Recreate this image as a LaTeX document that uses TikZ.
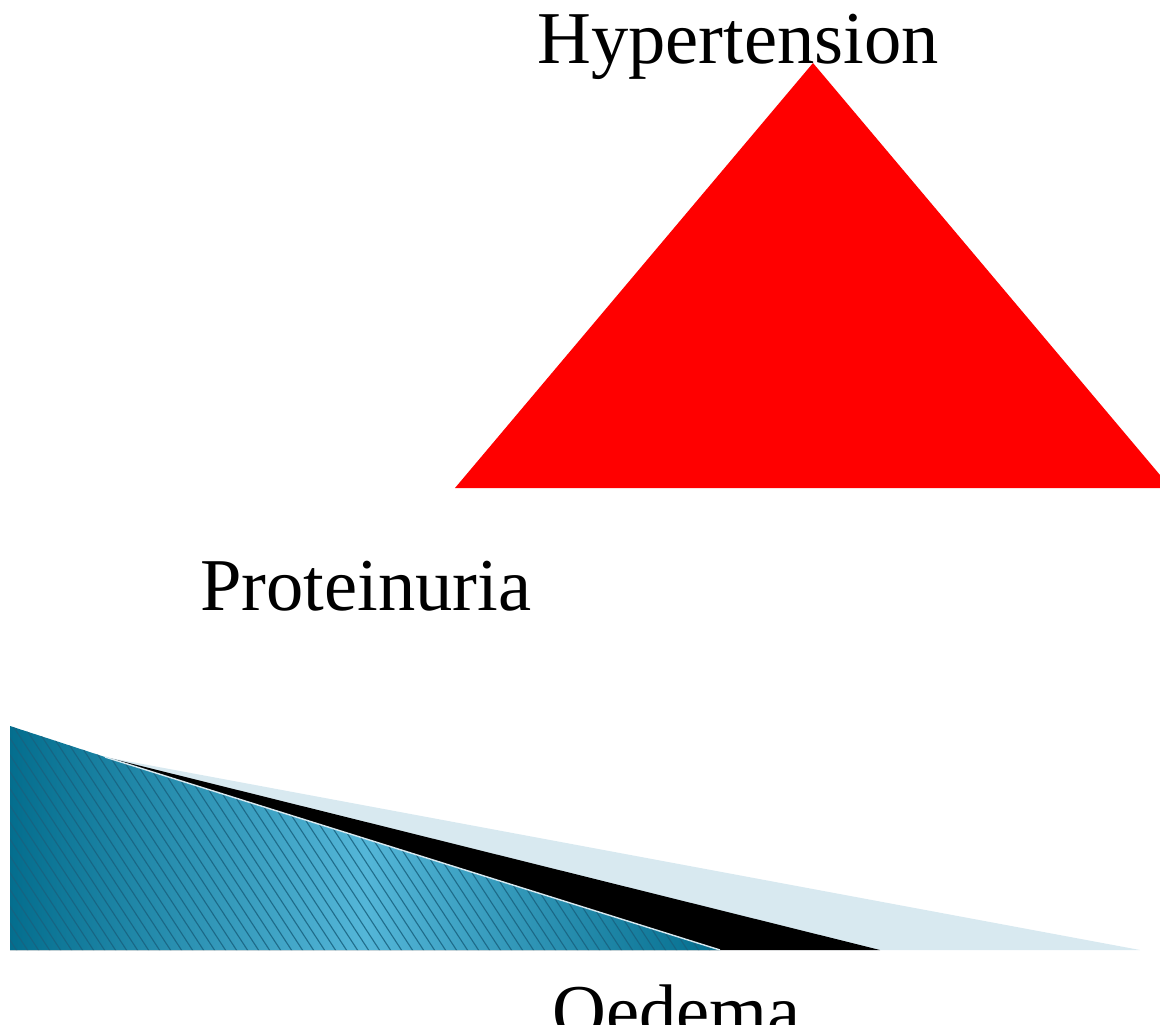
\documentclass[tikz,border=0pt]{standalone}
\usepackage{fontspec}
\setmainfont{Liberation Serif}
\usepackage{tikz}
\usetikzlibrary{positioning,calc}
\definecolor{htred}{RGB}{255,0,0}
\definecolor{tealdark}{RGB}{4,110,142}
\definecolor{teallight}{RGB}{84,182,216}
\definecolor{tealline}{RGB}{24,98,128}
\definecolor{paleblue}{RGB}{216,233,240}
\tikzset{
  bigword/.style={anchor=base west,inner sep=0pt,font=\fontsize{53}{60}\selectfont}
}

\begin{document}
\begin{tikzpicture}[x=0.025cm,y=-0.025cm]
\useasboundingbox (0,0) rectangle (1160,1025);
% red triangle
\fill[htred] (455,488) -- (813,63) -- (1160,475) -- (1160,488) -- cycle;
% wedge at the bottom
\fill[paleblue] (105,757) -- (1140,950) -- (10,950) -- cycle;
\fill[black] (105,757) -- (880,950) -- (10,950) -- cycle;
\shade[left color=tealdark,right color=tealdark,middle color=teallight]
  (10,726) -- (105,757) -- (720,950) -- (10,950) -- cycle;
\begin{scope}
  \clip (10,726) -- (105,757) -- (720,950) -- (10,950) -- cycle;
  \foreach \i in {-180,-169,...,720}
    \draw[tealline,line width=0.8pt,opacity=0.85] (\i,700) -- (\i+170,960);
\end{scope}
\draw[paleblue,line width=1pt] (105,757) -- (720,950);
% labels
\node[bigword] (hyper) at (537,64) {Hypertension};
\node[bigword] (prot) at (200,610) {Proteinuria};
\node[bigword] (oed) at (552,1036) {Oedema};
\end{tikzpicture}
\end{document}
